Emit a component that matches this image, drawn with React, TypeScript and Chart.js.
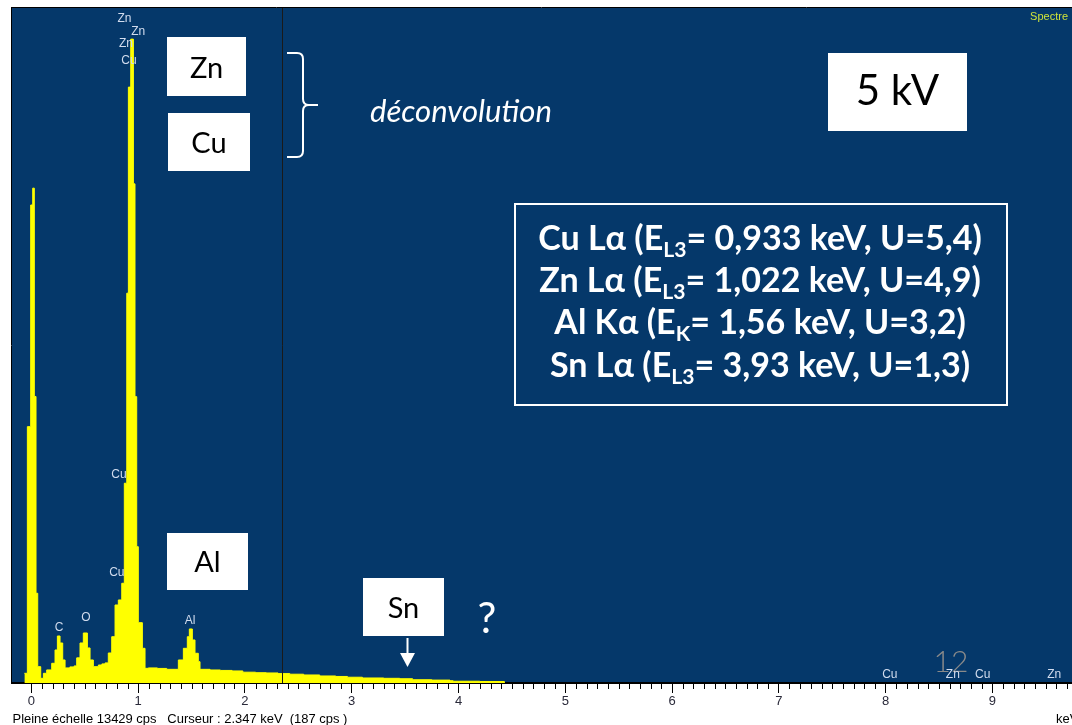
import React, { useEffect, useRef } from "react";
import { Chart, registerables } from "chart.js";

Chart.register(...registerables);

// ---- Spectrum data (bin left edge in keV, counts in cps) ----
const energyKeV = [
  -0.066, -0.038, -0.007, 0.012, 0.027, 0.043, 0.059, 0.087, 0.112, 0.143,
  0.19, 0.221, 0.243, 0.268, 0.293, 0.315, 0.36, 0.4, 0.424, 0.455,
  0.486, 0.524, 0.549, 0.58, 0.627, 0.66, 0.69, 0.72, 0.752, 0.783,
  0.814, 0.846, 0.87, 0.893, 0.908, 0.93, 0.955, 0.97, 0.986, 1.001,
  1.039, 1.064, 1.095, 1.18, 1.267, 1.376, 1.423, 1.46, 1.479, 1.507,
  1.532, 1.563, 1.579, 1.673, 1.77, 1.88, 1.98, 2.1, 2.2, 2.31,
  2.42, 2.55, 2.7, 2.85, 2.96, 3.1, 3.3, 3.45, 3.57, 3.75,
  3.92, 3.95, 4.2, 4.43,
];
const countsCps = [
  193, 5100, 9510, 9845, 5700, 1785, 325, 93, 193, 260,
  392, 657, 935, 796, 458, 300, 320, 340, 500, 796,
  995, 697, 458, 325, 358, 380, 400, 597, 921, 1552,
  1652, 1984, 3974, 7755, 11855, 12810, 9930, 5697, 2712, 1200,
  690, 292, 300, 290, 272, 458, 690, 921, 1075, 856,
  591, 424, 272, 259, 250, 240, 215, 205, 200, 187,
  175, 160, 140, 130, 115, 100, 93, 85, 65, 58,
  45, 35, 30, 0,
];

const FULL_SCALE_CPS = 13429;
const CURSOR_KEV = 2.347;
const CURSOR_CPS = 187;
const X_MIN_KEV = -0.182;
const X_MAX_KEV = 9.746;
const MAJOR_STEP_KEV = 1;
const MINOR_STEP_KEV = 0.1;

// ---- Peak identification labels ----
const peakLabelText = ["Zn", "Zn", "Zn", "Cu", "Cu", "Cu", "C", "O", "Al", "Cu", "Zn", "Cu", "Zn"];
const peakLabelKeV = [0.872, 1.0, 0.886, 0.914, 0.82, 0.8, 0.259, 0.511, 1.485, 8.04, 8.63, 8.91, 9.58];
const peakLabelCps = [13210, 12962, 12713, 12375, 4138, 2188, 1094, 1293, 1233, 169, 169, 169, 169];

// ---- Annotation texts ----
const lineNames = ["Cu Lα", "Zn Lα", "Al Kα", "Sn Lα"];
const edgeNames = ["L3", "L3", "K", "L3"];
const edgeEnergies = ["0,933", "1,022", "1,56", "3,93"];
const overvoltages = ["5,4", "4,9", "3,2", "1,3"];
const boxLabels = ["Zn", "Cu", "Al", "Sn"];
const ACCEL_VOLTAGE = "5 kV";
const NOTE_TEXT = "déconvolution";
const SLIDE_NUMBER = "12";

const BLUE = "#05386a";
const YELLOW = "#ffff00";
const LABEL_COLOR = "#d2dcee";
const SANS = '"Liberation Sans", Arial, sans-serif';
const HUMAN = 'Lato, "Open Sans", sans-serif';

function drawWhiteBox(ctx: CanvasRenderingContext2D, x: number, y: number, w: number, h: number, text: string, size: number, baseline: number) {
  ctx.fillStyle = "#ffffff";
  ctx.fillRect(x, y, w, h);
  ctx.fillStyle = "#000000";
  ctx.font = `${size}px ${HUMAN}`;
  ctx.textAlign = "center";
  ctx.textBaseline = "alphabetic";
  ctx.fillText(text, x + w / 2, baseline);
}

const overlay = {
  id: "edsOverlay",
  beforeDraw(chart: any) {
    const { ctx, chartArea: a, width, height } = chart;
    ctx.save();
    ctx.fillStyle = "#ffffff";
    ctx.fillRect(0, 0, width, height);
    ctx.fillStyle = BLUE;
    ctx.fillRect(a.left, a.top, a.right - a.left, a.bottom - a.top);
    ctx.restore();
  },
  afterDatasetsDraw(chart: any) {
    const { ctx, chartArea: a } = chart;
    const xs = chart.scales.x;
    const ys = chart.scales.y;
    ctx.save();

    // cursor line
    const cx = Math.round(xs.getPixelForValue(CURSOR_KEV)) + 0.5;
    ctx.strokeStyle = "#1a1a1a";
    ctx.lineWidth = 1;
    ctx.beginPath();
    ctx.moveTo(cx, a.top);
    ctx.lineTo(cx, a.bottom);
    ctx.stroke();

    // frame lines (left, top)
    ctx.strokeStyle = "#000";
    ctx.beginPath();
    ctx.moveTo(a.left - 0.5, a.top - 1);
    ctx.lineTo(a.left - 0.5, a.bottom + 1);
    ctx.moveTo(a.left - 1, a.top - 0.5);
    ctx.lineTo(a.right, a.top - 0.5);
    ctx.stroke();

    // slide number
    ctx.fillStyle = "#8a8a8a";
    ctx.font = `300 30px ${HUMAN}`;
    ctx.textAlign = "center";
    ctx.textBaseline = "alphabetic";
    ctx.fillText(SLIDE_NUMBER, 951, 672);

    // peak labels
    ctx.fillStyle = LABEL_COLOR;
    ctx.font = `12px ${SANS}`;
    ctx.textAlign = "center";
    ctx.textBaseline = "middle";
    peakLabelText.forEach((t, i) => {
      ctx.fillText(t, xs.getPixelForValue(peakLabelKeV[i]), ys.getPixelForValue(peakLabelCps[i]));
    });

    // white boxes
    drawWhiteBox(ctx, 167, 37, 79, 59, boxLabels[0], 29, 78);
    drawWhiteBox(ctx, 168, 113, 82, 58, boxLabels[1], 29, 153);
    drawWhiteBox(ctx, 167, 533, 81, 57, boxLabels[2], 29, 572);
    drawWhiteBox(ctx, 363, 578, 81, 58, boxLabels[3], 29, 618);
    drawWhiteBox(ctx, 828, 53, 139, 78, ACCEL_VOLTAGE, 42, 105);

    // brace
    ctx.strokeStyle = "#ffffff";
    ctx.lineWidth = 2;
    ctx.beginPath();
    ctx.moveTo(287, 53);
    ctx.lineTo(297, 53);
    ctx.quadraticCurveTo(303, 53, 303, 59);
    ctx.lineTo(303, 99);
    ctx.quadraticCurveTo(303, 105, 309, 105);
    ctx.lineTo(318, 105);
    ctx.moveTo(309, 105);
    ctx.quadraticCurveTo(303, 105, 303, 111);
    ctx.lineTo(303, 151);
    ctx.quadraticCurveTo(303, 157, 297, 157);
    ctx.lineTo(287, 157);
    ctx.stroke();

    // deconvolution text
    ctx.fillStyle = "#ffffff";
    ctx.textAlign = "left";
    ctx.textBaseline = "alphabetic";
    ctx.font = `italic 26px ${HUMAN}`;
    const dw = ctx.measureText(NOTE_TEXT).width;
    const ds = (26 * 182) / dw;
    ctx.font = `italic ${ds}px ${HUMAN}`;
    ctx.fillText(NOTE_TEXT, 370, 122);

    // info box
    ctx.strokeStyle = "#ffffff";
    ctx.lineWidth = 2;
    ctx.strokeRect(515, 204, 492, 201);
    const parts = (i: number) => [`${lineNames[i]} (E`, edgeNames[i], `= ${edgeEnergies[i]} keV, U=${overvoltages[i]})`];
    const widthAt = (p: string[], s: number) => {
      ctx.font = `bold ${s}px ${HUMAN}`;
      const w1 = ctx.measureText(p[0]).width + ctx.measureText(p[2]).width;
      ctx.font = `bold ${s * 0.62}px ${HUMAN}`;
      return w1 + ctx.measureText(p[1]).width;
    };
    const s = (30 * 444) / widthAt(parts(0), 30);
    const baselines = [250, 292, 334, 377];
    for (let i = 0; i < lineNames.length; i++) {
      const p = parts(i);
      const w = widthAt(p, s);
      let x = 760 - w / 2;
      ctx.font = `bold ${s}px ${HUMAN}`;
      ctx.fillText(p[0], x, baselines[i]);
      x += ctx.measureText(p[0]).width;
      ctx.font = `bold ${s * 0.62}px ${HUMAN}`;
      ctx.fillText(p[1], x, baselines[i] + 7);
      x += ctx.measureText(p[1]).width;
      ctx.font = `bold ${s}px ${HUMAN}`;
      ctx.fillText(p[2], x, baselines[i]);
    }

    // arrow to Sn
    ctx.strokeStyle = "#ffffff";
    ctx.lineWidth = 2;
    ctx.beginPath();
    ctx.moveTo(407.5, 638);
    ctx.lineTo(407.5, 655);
    ctx.stroke();
    ctx.fillStyle = "#ffffff";
    ctx.beginPath();
    ctx.moveTo(400, 653);
    ctx.lineTo(415, 653);
    ctx.lineTo(407.5, 667);
    ctx.closePath();
    ctx.fill();

    // question mark
    ctx.font = `42px ${HUMAN}`;
    ctx.textAlign = "center";
    ctx.fillText("?", 487, 633);

    // Spectre
    ctx.fillStyle = "#cfe33a";
    ctx.font = `11px ${SANS}`;
    ctx.textAlign = "right";
    ctx.fillText("Spectre", 1068, 20);

    ctx.restore();
  },
  afterDraw(chart: any) {
    const { ctx, chartArea: a } = chart;
    const xs = chart.scales.x;
    ctx.save();
    // minor ticks
    ctx.strokeStyle = "#000";
    ctx.lineWidth = 1;
    ctx.beginPath();
    const n = Math.floor(X_MAX_KEV / MINOR_STEP_KEV);
    for (let i = 1; i <= n; i++) {
      if (i % 10 === 0) continue;
      const px = Math.round(xs.getPixelForValue(i * MINOR_STEP_KEV)) + 0.5;
      ctx.moveTo(px, a.bottom + 1);
      ctx.lineTo(px, a.bottom + 6);
    }
    ctx.stroke();

    // status line
    const status = `Pleine échelle ${FULL_SCALE_CPS} cps   Curseur : ${CURSOR_KEV.toFixed(3)} keV  (${CURSOR_CPS} cps )`;
    ctx.fillStyle = "#000";
    ctx.textAlign = "left";
    ctx.textBaseline = "alphabetic";
    ctx.font = `12px ${SANS}`;
    const sw = ctx.measureText(status).width;
    const fs = (12 * 335) / sw;
    ctx.font = `${fs}px ${SANS}`;
    ctx.fillText(status, 12.5, 723);
    ctx.fillText("keV", 1056, 723);
    ctx.restore();
  },
};

export default function App() {
  const ref = useRef<HTMLCanvasElement | null>(null);
  useEffect(() => {
    document.body.style.margin = "0";
    const canvas = ref.current;
    if (!canvas) return;
    const chart = new Chart(canvas, {
      type: "line",
      data: {
        datasets: [
          {
            data: energyKeV.map((e, i) => ({ x: e, y: countsCps[i] })),
            stepped: true,
            fill: "origin",
            backgroundColor: YELLOW,
            borderColor: YELLOW,
            borderWidth: 1,
            pointRadius: 0,
            tension: 0,
          },
        ],
      },
      options: {
        responsive: false,
        animation: false,
        devicePixelRatio: 1,
        layout: { padding: { left: 12, top: 8, right: 0, bottom: 0 } },
        plugins: { legend: { display: false }, tooltip: { enabled: false } },
        scales: {
          x: {
            type: "linear",
            position: "bottom",
            min: X_MIN_KEV,
            max: X_MAX_KEV,
            afterFit: (scale: any) => {
              scale.height = 42;
            },
            border: { display: true, color: "#000", width: 2 },
            grid: { drawOnChartArea: false, drawTicks: true, tickLength: 10, tickColor: "#000", tickWidth: 1 },
            ticks: {
              stepSize: MAJOR_STEP_KEV,
              includeBounds: false,
              autoSkip: false,
              maxRotation: 0,
              padding: 1,
              color: "#2a2a3a",
              font: { family: SANS, size: 13 },
            },
          },
          y: { display: false, min: 0, max: FULL_SCALE_CPS },
        },
      } as any,
      plugins: [overlay],
    });
    return () => chart.destroy();
  }, []);
  return (
    <div style={{ width: 1072, height: 725, overflow: "hidden" }}>
      <canvas ref={ref} width={1072} height={725} style={{ display: "block" }} />
    </div>
  );
}
